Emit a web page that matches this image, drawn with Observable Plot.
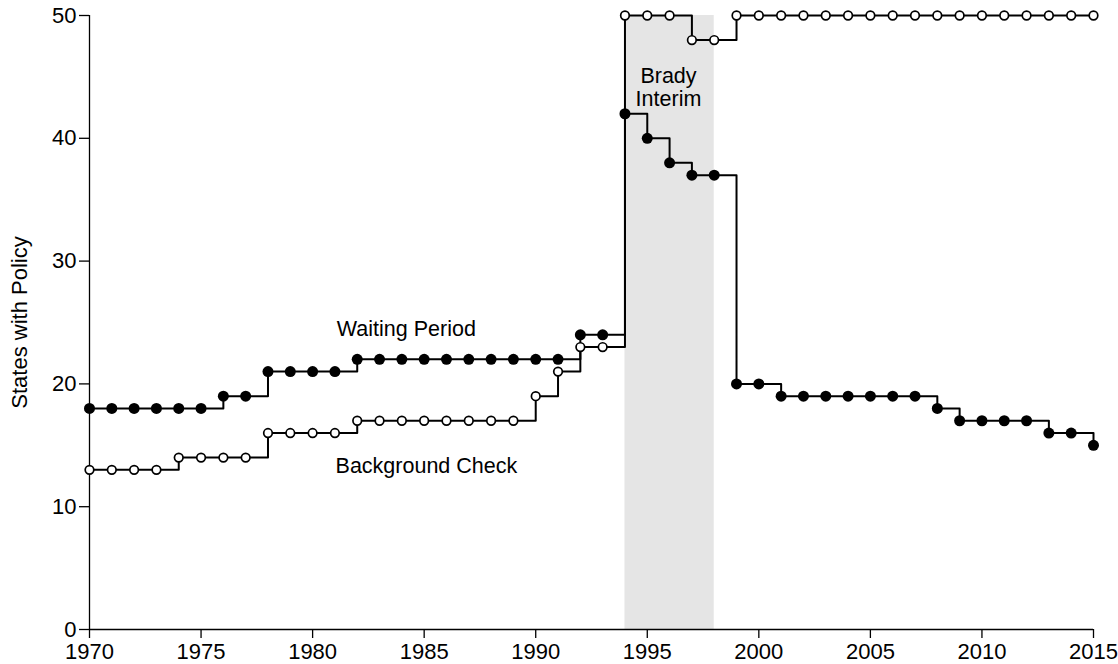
<!DOCTYPE html>
<html>
<head>
<meta charset="utf-8">
<script src="https://cdn.jsdelivr.net/npm/d3@7"></script>
<script src="https://cdn.jsdelivr.net/npm/@observablehq/plot@0.6"></script>
<style>
  html, body { margin: 0; padding: 0; background: #fff; }
  #chart svg { display: block; }
</style>
</head>
<body>
<div id="chart"></div>
<script>
const years = [1970,1971,1972,1973,1974,1975,1976,1977,1978,1979,1980,1981,1982,1983,1984,1985,1986,1987,1988,1989,1990,1991,1992,1993,1994,1995,1996,1997,1998,1999,2000,2001,2002,2003,2004,2005,2006,2007,2008,2009,2010,2011,2012,2013,2014,2015];
const waitingPeriod = [18,18,18,18,18,18,19,19,21,21,21,21,22,22,22,22,22,22,22,22,22,22,24,24,42,40,38,37,37,20,20,19,19,19,19,19,19,19,18,17,17,17,17,16,16,15];
const backgroundCheck = [13,13,13,13,14,14,14,14,16,16,16,16,17,17,17,17,17,17,17,17,19,21,23,23,50,50,50,48,48,50,50,50,50,50,50,50,50,50,50,50,50,50,50,50,50,50];
const bradyPeriod = [{start: 1994, end: 1998}];
const xTicks = [1970,1975,1980,1985,1990,1995,2000,2005,2010,2015];
const yTicks = [0,10,20,30,40,50];
const seriesLabels = [
  {text: "Waiting Period", year: 1984.2, value: 24.5},
  {text: "Background Check", year: 1985.1, value: 13.35},
  {text: "Brady\nInterim", year: 1995.95, value: 44.15}
];

const wp = years.map((y, i) => ({year: y, value: waitingPeriod[i]}));
const bc = years.map((y, i) => ({year: y, value: backgroundCheck[i]}));

const chart = Plot.plot({
  width: 1118,
  height: 664,
  marginLeft: 89,
  marginRight: 25,
  marginTop: 15,
  marginBottom: 35,
  style: {fontFamily: "'Liberation Sans', Arial, sans-serif", fontSize: "21px", color: "#000", background: "#fff"},
  x: {domain: [1970, 2015]},
  y: {domain: [0, 50]},
  marks: [
    Plot.rect(bradyPeriod, {x1: "start", x2: "end", y1: 0, y2: 50, fill: "#e5e5e5"}),
    Plot.ruleY([0], {x1: 1970, x2: 2015, stroke: "#000", strokeWidth: 1.3}),
    Plot.ruleX([1970], {y1: 0, y2: 50, stroke: "#000", strokeWidth: 1.3}),
    Plot.axisX({ticks: xTicks, tickFormat: d => String(d), tickSize: 9, tickPadding: 5, label: null, stroke: "#000", strokeWidth: 1.3, fontSize: 22}),
    Plot.axisY({ticks: yTicks, tickSize: 10, tickPadding: 3, label: "States with Policy", labelAnchor: "center", labelArrow: "none", labelOffset: 78, stroke: "#000", strokeWidth: 1.3, fontSize: 22}),
    Plot.line(wp, {x: "year", y: "value", curve: "step-after", stroke: "#000", strokeWidth: 2}),
    Plot.line(bc, {x: "year", y: "value", curve: "step-after", stroke: "#000", strokeWidth: 2}),
    Plot.dot(wp, {x: "year", y: "value", r: 5.5, fill: "#000", stroke: "none"}),
    Plot.dot(bc, {x: "year", y: "value", r: 4.3, fill: "#fff", stroke: "#000", strokeWidth: 1.7}),
    Plot.text(seriesLabels, {x: "year", y: "value", text: "text", fontSize: 21.5, fill: "#000", lineHeight: 1.03})
  ]
});
document.getElementById("chart").appendChild(chart);
</script>
</body>
</html>
